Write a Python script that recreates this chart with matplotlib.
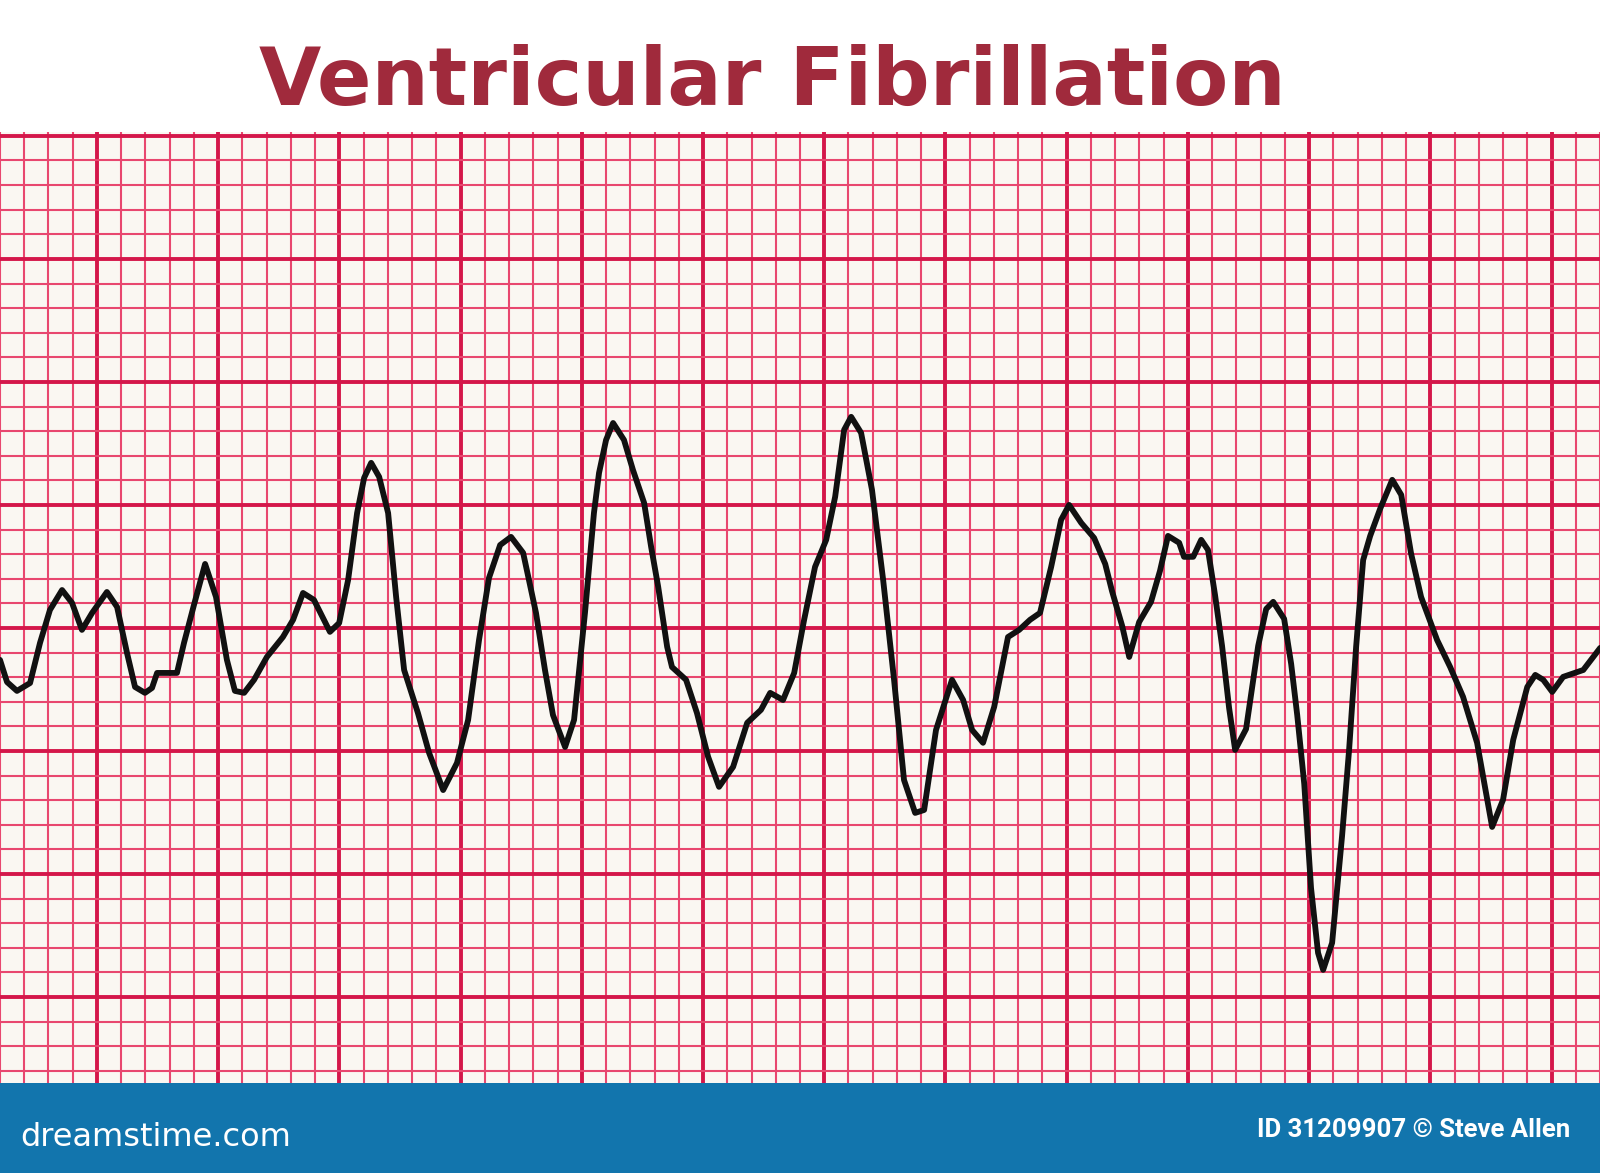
import numpy as np
import matplotlib.pyplot as plt
from matplotlib.patches import Rectangle

# EKG-Streifen, abgelesen in Millimetern Rasterpapier
# (x: 1 mm = 0,04 s, y: 10 mm = 1 mV, Nulllinie auf einer dicken Linie)
t_mm = [
    0.0, 0.29, 0.70, 1.24, 1.65, 2.06, 2.56, 2.97, 3.38, 3.80,
    4.41, 4.83, 5.24, 5.57, 5.98, 6.27, 6.48, 7.30, 7.59, 8.00,
    8.46, 8.91, 9.36, 9.69, 10.07, 10.48, 11.01, 11.67, 12.09, 12.50,
    12.95, 13.61, 13.99, 14.36, 14.73, 15.02, 15.31, 15.64, 16.01, 16.34,
    16.67, 17.24, 17.70, 18.28, 18.85, 19.31, 19.76, 20.17, 20.63, 21.08,
    21.58, 22.11, 22.48, 22.81, 23.31, 23.68, 24.13, 24.50, 24.71, 25.00,
    25.29, 25.74, 26.11, 26.57, 26.86, 27.15, 27.52, 27.72, 28.30, 28.75,
    29.21, 29.66, 30.24, 30.82, 31.39, 31.77, 32.30, 32.76, 33.17, 33.62,
    34.08, 34.45, 34.82, 35.11, 35.52, 35.97, 36.43, 36.88, 37.29, 37.75,
    38.12, 38.61, 39.27, 39.73, 40.10, 40.55, 41.01, 41.58, 42.04, 42.49,
    42.90, 43.36, 43.77, 44.10, 44.60, 45.13, 45.59, 45.87, 46.29, 46.58,
    46.99, 47.48, 47.85, 48.18, 48.64, 48.84, 49.22, 49.55, 49.83, 50.12,
    50.41, 50.70, 50.95, 51.40, 51.90, 52.23, 52.52, 52.97, 53.26, 53.51,
    53.80, 54.08, 54.37, 54.58, 54.95, 55.36, 55.65, 55.94, 56.23, 56.52,
    56.93, 57.43, 57.80, 58.21, 58.62, 59.28, 59.82, 60.35, 60.93, 61.55,
    62.00, 62.42, 63.00, 63.33, 63.66, 64.03, 64.48, 65.31, 66.01,
]
v_mm = [
    -1.30, -2.20, -2.56, -2.24, -0.61, 0.73, 1.54, 1.02, -0.08, 0.61,
    1.46, 0.85, -1.02, -2.40, -2.64, -2.44, -1.83, -1.83, -0.61, 0.93,
    2.60, 1.26, -1.30, -2.56, -2.64, -2.11, -1.18, -0.37, 0.33, 1.42,
    1.14, -0.16, 0.20, 1.95, 4.67, 6.10, 6.71, 6.14, 4.67, 1.26,
    -1.71, -3.46, -5.08, -6.59, -5.49, -3.74, -0.49, 2.03, 3.37, 3.70,
    3.05, 0.61, -1.71, -3.54, -4.84, -3.74, 0.61, 4.67, 6.30, 7.64,
    8.33, 7.64, 6.42, 5.08, 3.29, 1.67, -0.77, -1.59, -2.11, -3.46,
    -5.24, -6.46, -5.65, -3.86, -3.33, -2.64, -2.93, -1.83, 0.33, 2.48,
    3.58, 5.33, 8.05, 8.58, 7.93, 5.61, 1.95, -2.11, -6.18, -7.52,
    -7.40, -4.15, -2.11, -2.93, -4.15, -4.67, -3.21, -0.37, -0.08, 0.33,
    0.61, 2.48, 4.39, 5.00, 4.27, 3.66, 2.60, 1.50, 0.08, -1.18,
    0.24, 1.06, 2.32, 3.74, 3.46, 2.89, 2.89, 3.58, 3.17, 1.34,
    -0.73, -3.25, -4.96, -4.11, -0.73, 0.77, 1.06, 0.37, -1.46, -3.54,
    -6.34, -10.57, -13.21, -13.90, -12.80, -8.46, -4.96, -0.77, 2.76, 3.74,
    4.84, 6.02, 5.41, 3.01, 1.26, -0.49, -1.59, -2.80, -4.67, -8.09,
    -6.99, -4.55, -2.40, -1.91, -2.11, -2.60, -1.99, -1.71, -0.81,
]

# Rasterlinien des Papiers (mm)
big_x = np.arange(4, 67, 5)
small_x = np.arange(0, 67, 1)
big_y = np.arange(-15, 21, 5)
small_y = np.arange(-18, 21, 1)

title = 'Ventricular Fibrillation'
brand = 'dreamstime.com'
credit = 'ID 31209907 \u00a9 Steve Allen'

fig = plt.figure(figsize=(16, 11.73), dpi=100)
fig.patch.set_facecolor('white')

ax = fig.add_axes([0, 0.0767, 1, 0.8108])
ax.set_facecolor('#faf7f2')
ax.set_xlim(0, 66.0)
ax.set_ylim(-18.5, 20.16)

ax.set_xticks(big_x)
ax.set_xticks(small_x, minor=True)
ax.set_yticks(big_y)
ax.set_yticks(small_y, minor=True)
ax.grid(which='minor', color='#e8476f', linewidth=1.5)
ax.grid(which='major', color='#d4174a', linewidth=2.8)
ax.tick_params(which='both', length=0, labelbottom=False, labelleft=False)
for s in ax.spines.values():
    s.set_visible(False)

# Kurve
ax.plot(t_mm, v_mm, color='#111111', linewidth=4.2, solid_joinstyle='round',
        solid_capstyle='round', zorder=3)

# Titel
fig.text(0.4825, 0.9105, title, ha='center', va='baseline', fontsize=58,
         fontweight='bold', color='#a02a3c', family='DejaVu Sans')

# blaues Band unten
fig.add_artist(Rectangle((0, 0), 1, 0.0767, transform=fig.transFigure,
                         facecolor='#1275ad', edgecolor='none'))
fig.text(20 / 1600, 0.023, brand, ha='left', va='baseline', fontsize=23,
         color='white', family='DejaVu Sans')
fig.text(0.9813, 0.0307, credit, ha='right', va='baseline', fontsize=18.5,
         fontweight='bold', color='white', family=['Roboto', 'DejaVu Sans'])

fig.savefig('out.png', dpi=100)
